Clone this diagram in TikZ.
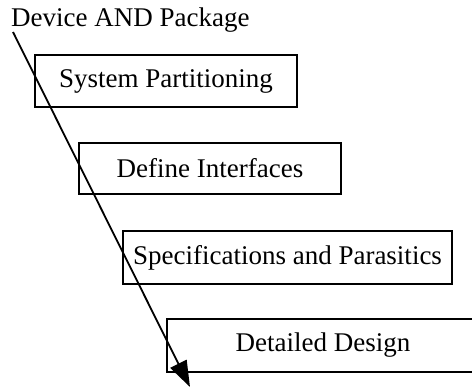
\documentclass[tikz,border=0pt]{standalone}
\usepackage{fontspec}
\setmainfont{Liberation Serif}
\usetikzlibrary{arrows.meta}
\begin{document}
\begin{tikzpicture}[x=1pt,y=-1pt,
  stagebox/.style={draw,line width=1.8pt,inner sep=0pt,font=\fontsize{27}{31}\selectfont},
  titletext/.style={inner sep=0pt,anchor=base west,font=\fontsize{27}{31}\selectfont}]
\useasboundingbox (0,0) rectangle (472,388);
\begin{scope}
\clip (0,0) rectangle (472,388);
\node[titletext] (title) at (11,27) {Device AND Package};
\node[stagebox,minimum width=262pt,minimum height=52pt] (b1) at (166,81) {System Partitioning};
\node[stagebox,minimum width=262pt,minimum height=51pt] (b2) at (210,168.5) {Define Interfaces};
\node[stagebox,minimum width=329pt,minimum height=53pt] (b3) at (287.5,257.5) {Specifications and Parasitics};
\node[stagebox,minimum width=312pt,minimum height=53pt] (b4) at (323,345.5) {Detailed Design};
\coordinate (s) at (13,32);
\coordinate (e) at (190,387);
\draw[line width=1.8pt,-{Triangle[length=26pt,width=18pt]}] (s) -- (e);
\end{scope}
\end{tikzpicture}
\end{document}
